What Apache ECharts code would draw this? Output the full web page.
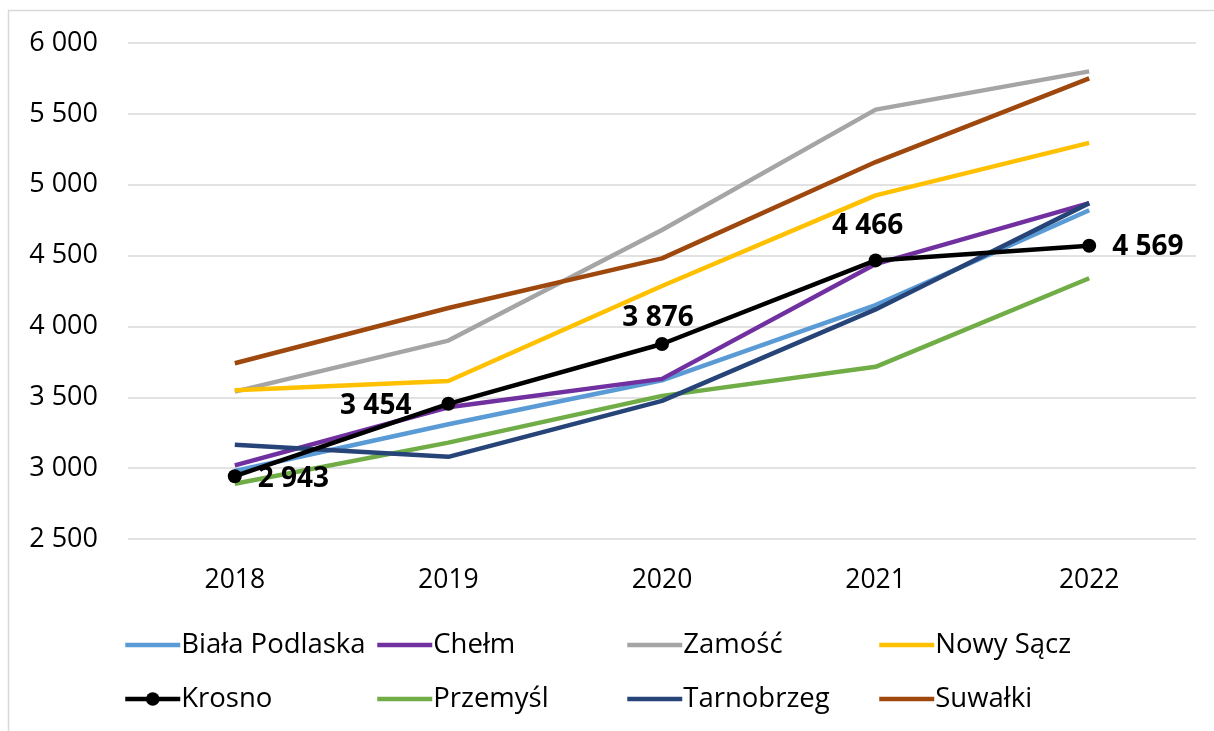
<!DOCTYPE html>
<html>
<head>
<meta charset="utf-8">
<title>Wynagrodzenia - miasta</title>
<script src="https://cdn.jsdelivr.net/npm/echarts@6/dist/echarts.min.js"></script>
<style>
    html, body { margin: 0; padding: 0; background: #fff; }
    #chart { width: 1214px; height: 731px; }
</style>
</head>
<body>
<div id="chart"></div>
<script>
// dane
var years = ['2018', '2019', '2020', '2021', '2022'];
var yTicks = [2500, 3000, 3500, 4000, 4500, 5000, 5500, 6000];

var bialaPodlaska = [2980, 3310, 3620, 4150, 4820];
var chelm = [3020, 3430, 3630, 4440, 4870];
var zamosc = [3540, 3900, 4680, 5530, 5800];
var nowySacz = [3550, 3615, 4285, 4925, 5295];
var krosno = [2943, 3454, 3876, 4466, 4569];
var przemysl = [2890, 3180, 3510, 3715, 4340];
var tarnobrzeg = [3165, 3080, 3475, 4120, 4870];
var suwalki = [3740, 4130, 4480, 5160, 5750];

var FONT = '"Open Sans", "Liberation Sans", sans-serif';

function fmt(v) {
    return String(v).replace(/\B(?=(\d{3})+(?!\d))/g, ' ');
}

// pozycje etykiet dla Krosna
var krosnoLabel = [
    { position: 'right', distance: 16, offset: [0, 3] },
    { position: 'left', distance: 30, offset: [0, 2] },
    { position: 'top', distance: 5, offset: [-4, 0] },
    { position: 'top', distance: 13, offset: [-8, 0] },
    { position: 'right', distance: 16, offset: [0, 1] }
];

function lineSeries(name, data, color, z) {
    return {
        name: name,
        type: 'line',
        data: data,
        symbol: 'none',
        z: z || 2,
        lineStyle: { color: color, width: 4.5 },
        itemStyle: { color: color },
        emphasis: { disabled: true },
        animation: false
    };
}

var krosnoSeries = {
    name: 'Krosno',
    type: 'line',
    z: 10,
    symbol: 'circle',
    symbolSize: 14,
    lineStyle: { color: '#000', width: 4.5 },
    itemStyle: { color: '#000' },
    emphasis: { disabled: true },
    animation: false,
    data: krosno.map(function (v, i) {
        return {
            value: v,
            label: {
                show: true,
                position: krosnoLabel[i].position,
                distance: krosnoLabel[i].distance,
                offset: krosnoLabel[i].offset,
                formatter: function (p) { return fmt(p.value); },
                color: '#000',
                fontFamily: FONT,
                fontWeight: 'bold',
                fontSize: 28
            }
        };
    })
};

var chart = echarts.init(document.getElementById('chart'));

function legendItem(name) {
    if (name === 'Krosno') {
        return { name: name };
    }
    // bez znacznika - sama linia
    return { name: name, itemStyle: { opacity: 0 } };
}

function legendCol(left, names) {
    return {
        orient: 'vertical',
        left: left,
        top: 631,
        itemWidth: 55,
        itemHeight: 17,
        itemGap: 26,
        padding: 0,
        selectedMode: false,
        lineStyle: { width: 4.5 },
        data: names.map(legendItem),
        textStyle: { fontFamily: FONT, fontSize: 27.5, color: '#000', padding: [0, 0, 0, -4] }
    };
}

chart.setOption({
    backgroundColor: '#fff',
    graphic: [{
        type: 'rect',
        shape: { x: 8.5, y: 10.5, width: 1220, height: 740 },
        style: { fill: null, stroke: '#d9d9d9', lineWidth: 1.5 },
        silent: true
    }],
    grid: { left: 128, right: 18, top: 43, bottom: 192 },
    legend: [
        legendCol(123, ['Biała Podlaska', 'Krosno']),
        legendCol(375, ['Chełm', 'Przemyśl']),
        legendCol(625, ['Zamość', 'Tarnobrzeg']),
        legendCol(877, ['Nowy Sącz', 'Suwałki'])
    ],
    xAxis: {
        type: 'category',
        data: years,
        boundaryGap: true,
        axisLine: { show: false },
        axisTick: { show: false },
        axisLabel: { margin: 28, fontFamily: FONT, fontSize: 26.5, color: '#000' }
    },
    yAxis: {
        type: 'value',
        min: yTicks[0],
        max: yTicks[yTicks.length - 1],
        interval: 500,
        axisLine: { show: false },
        axisTick: { show: false },
        splitLine: { lineStyle: { color: '#d9d9d9', width: 1.5 } },
        axisLabel: {
            margin: 30,
            fontFamily: FONT,
            fontSize: 27,
            color: '#000',
            formatter: function (v) { return fmt(v); }
        }
    },
    series: [
        lineSeries('Biała Podlaska', bialaPodlaska, '#5b9bd5', 3),
        lineSeries('Chełm', chelm, '#7030a0', 4),
        lineSeries('Zamość', zamosc, '#a5a5a5', 2),
        lineSeries('Nowy Sącz', nowySacz, '#ffc000', 2),
        krosnoSeries,
        lineSeries('Przemyśl', przemysl, '#70ad47', 2),
        lineSeries('Tarnobrzeg', tarnobrzeg, '#264478', 5),
        lineSeries('Suwałki', suwalki, '#9e480e', 2)
    ]
});
</script>
</body>
</html>
